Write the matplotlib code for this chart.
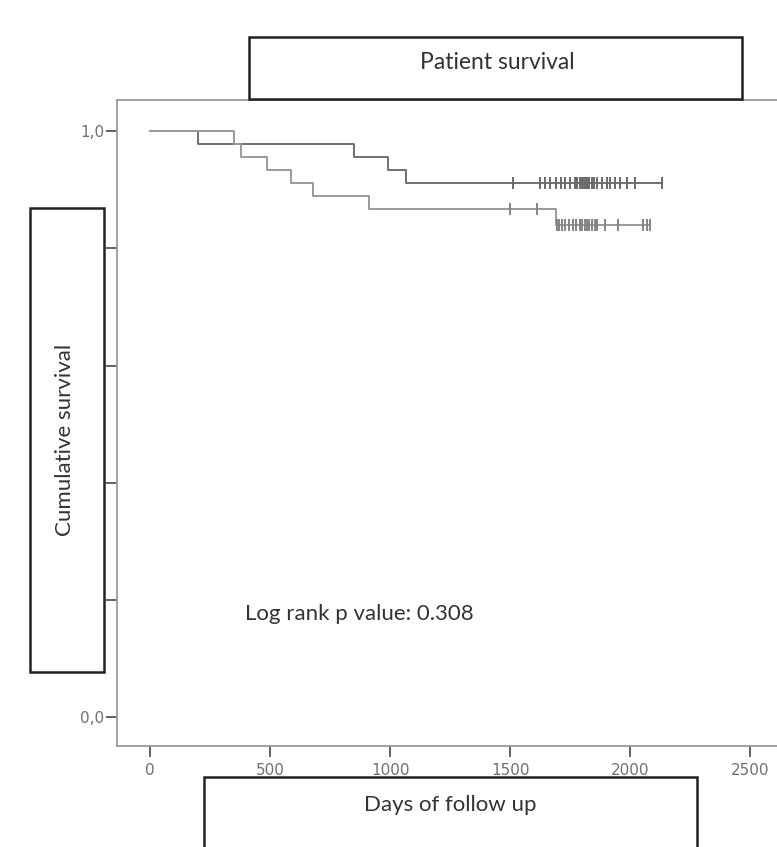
import numpy as np
import matplotlib
matplotlib.use('Agg')
import matplotlib.pyplot as plt
from matplotlib.patches import Rectangle

# Kaplan-Meier steps (days, cumulative survival)
timesA = [0, 200, 850, 992, 1067, 2132]
survA = [1.0, 0.978, 0.956, 0.933, 0.911, 0.911]
censorA = [1511, 1625, 1646, 1667, 1690, 1711, 1729, 1750, 1771, 1780, 1790,
           1800, 1808, 1815, 1822, 1830, 1840, 1850, 1862, 1882, 1903, 1917,
           1938, 1958, 1986, 2021, 2132]

timesB = [0, 350, 379, 487, 587, 679, 912, 1690, 2083]
survB = [1.0, 0.978, 0.956, 0.933, 0.911, 0.889, 0.867, 0.84, 0.84]
censorB = [1500, 1611, 1694, 1705, 1718, 1730, 1745, 1760, 1775, 1790, 1800,
           1810, 1820, 1830, 1840, 1852, 1861, 1896, 1950, 2054, 2070, 2083]

xticks = [0, 500, 1000, 1500, 2000, 2500]
yticks = [0.0, 0.2, 0.4, 0.6, 0.8, 1.0]
ylabels = ['0,0', '0,2', '0,4', '0,6', '0,8', '1,0']

title = 'Patient survival'
xlab = 'Days of follow up'
ylab = 'Cumulative survival'
note = 'Log rank p value: 0.308'


def surv_at(t, times, surv):
    # value of the step function at time t
    i = np.searchsorted(times, t, side='right') - 1
    return np.array(surv)[i]


fig = plt.figure(figsize=(7.77, 8.47), dpi=100)
ax = fig.add_axes([0.1506, 0.1192, 0.8766, 0.7627])

ax.step(timesA, survA, where='post', color='#707070', lw=1.4)
ax.step(timesB, survB, where='post', color='#9a9a9a', lw=1.4)
ax.plot(censorA, surv_at(censorA, timesA, survA), ls='none', marker='|',
        ms=8, mew=1.4, color='#6a6a6a')
ax.plot(censorB, surv_at(censorB, timesB, survB), ls='none', marker='|',
        ms=8, mew=1.4, color='#858585')

ax.set_xlim(-138, 2700)
ax.set_ylim(-0.049, 1.053)
ax.set_xticks(xticks)
ax.set_yticks(yticks)
ax.set_yticklabels(ylabels)
for s in ['left', 'bottom', 'top']:
    ax.spines[s].set_color('#9a9a9a')
    ax.spines[s].set_linewidth(1.3)
ax.spines['right'].set_visible(False)
ax.tick_params(direction='out', length=8, width=1.3, color='#555555',
               labelsize=11, labelcolor='#707070')
ax.tick_params(axis='x', pad=4)
ax.tick_params(axis='y', pad=1)
for lab in ax.get_xticklabels() + ax.get_yticklabels():
    lab.set_family(['Liberation Sans Narrow', 'DejaVu Sans'])

ax.text(396, 0.176, note, fontsize=16, family='Lato', va='center',
        ha='left', color='#333333')

# white label boxes on top, as in the original export
boxes = [(0.3205, 0.8831, 0.6345, 0.0732),
         (0.0386, 0.2066, 0.0952, 0.5478),
         (0.2625, -0.05, 0.6345, 0.1326)]
for (x0, y0, w, h) in boxes:
    fig.add_artist(Rectangle((x0, y0), w, h, transform=fig.transFigure,
                             facecolor='white', edgecolor='#222222',
                             lw=1.8, zorder=5))

fig.text(0.6396, 0.9268, title, fontsize=16.5, family='Lato', ha='center',
         va='center', zorder=6, color='#333333')
fig.text(0.0837, 0.4805, ylab, fontsize=16, family='Lato', ha='center',
         va='center', rotation=90, zorder=6, color='#333333')
fig.text(0.5792, 0.0496, xlab, fontsize=16, family='Lato', ha='center',
         va='center', zorder=6, color='#333333')

fig.savefig('out.png', dpi=100)
